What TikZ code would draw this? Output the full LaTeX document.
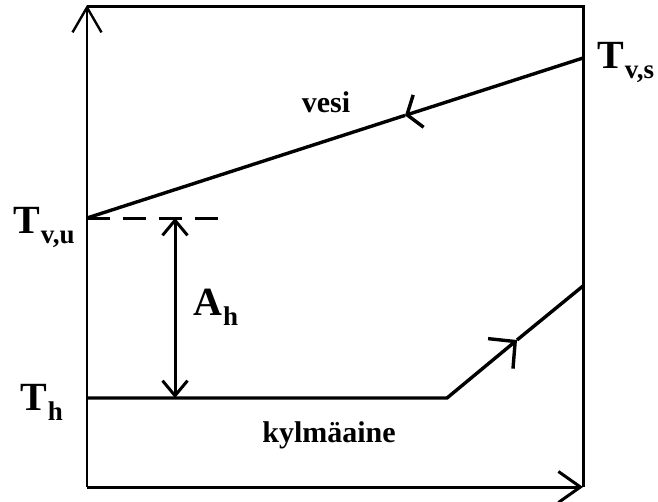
\documentclass[tikz,border=0pt]{standalone}
\usepackage{fontspec}
\setmainfont{Liberation Serif}
\usetikzlibrary{arrows.meta}
\newcommand{\tsub}[2]{#1\kern1pt\raisebox{-0.25em}{\fontsize{27}{27}\selectfont #2}}

\begin{document}
\begin{tikzpicture}[x=1pt,y=-1pt,
    axis/.style={line width=2.4pt,black},
    frame/.style={line width=3pt,black},
    flow/.style={line width=3.4pt,black},
    big/.style={font=\fontsize{40}{40}\selectfont\bfseries,inner sep=0pt,anchor=base west},
    word/.style={font=\fontsize{30}{30}\selectfont\bfseries,inner sep=0pt,anchor=base}]
    \useasboundingbox (0,0) rectangle (658,501);
    % corners of the diagram
    \coordinate (o)    at (87,487);
    \coordinate (ytop) at (87,5);
    \coordinate (tl)   at (87,6);
    \coordinate (tr)   at (583,6);
    \coordinate (br)   at (583,487);
    % water line
    \coordinate (wout) at (87,218);
    \coordinate (win)  at (583,58);
    \coordinate (wmid) at (405,115.4);
    % refrigerant line
    \coordinate (c0)   at (87,398);
    \coordinate (knee) at (447,398);
    \coordinate (cmid) at (517,340);
    \coordinate (cend) at (583,286);
    % difference
    \coordinate (dtop) at (175,218);
    \coordinate (dbot) at (175,398);
    \coordinate (dend) at (220,218);

    \draw[axis,-{Straight Barb[length=25pt,width=29pt]}] (o) -- (ytop);
    \draw[frame] (tl) -- (tr) -- (br);
    \draw[frame,-{Straight Barb[length=22pt,width=31pt]}] (o) -- (br);

    \draw[flow,-{Straight Barb[length=12pt,width=34pt]}] (win) -- (wmid);
    \draw[flow] (wmid) -- (wout);
    \draw[frame,dash pattern=on 23pt off 13pt] (wout) -- (dend);

    \draw[flow,line join=miter,-{Straight Barb[length=19pt,width=39pt]}] (c0) -- (knee) -- (cmid);
    \draw[flow] (cmid) -- (cend);

    \draw[frame,{Straight Barb[length=15pt,width=25pt]}-{Straight Barb[length=15pt,width=25pt]}] (dtop) -- (dbot);

    \node[big] (tvs) at (597,68) {\tsub{T}{v,s}};
    \node[big] (tvu) at (13,233) {\tsub{T}{v,u}};
    \node[big] (ah) at (193,315) {\tsub{A}{h}};
    \node[big] (th) at (20,410) {\tsub{T}{h}};
    \node[word] (vesi) at (326,112) {vesi};
    \node[word] (kylma) at (329,442) {kylmäaine};
\end{tikzpicture}
\end{document}
